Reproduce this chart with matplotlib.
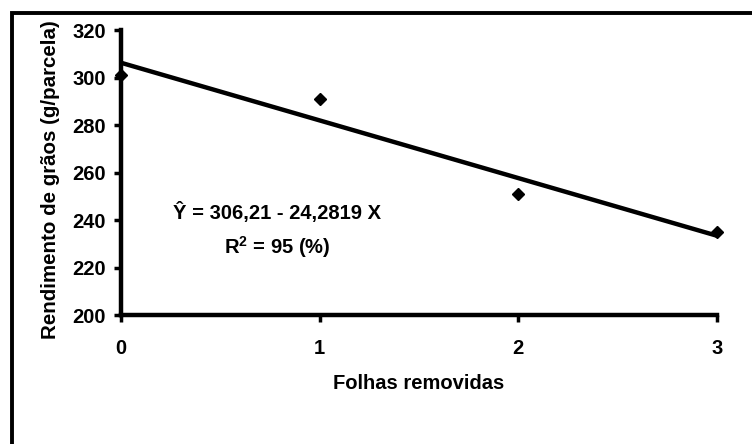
import matplotlib
matplotlib.use("Agg")
import matplotlib.pyplot as plt
import matplotlib.patches as mpatches
import numpy as np

plt.rcParams['font.family'] = ['Liberation Sans', 'DejaVu Sans']
plt.rcParams['mathtext.fontset'] = 'custom'
plt.rcParams['mathtext.bf'] = 'Liberation Sans:bold'
plt.rcParams['mathtext.rm'] = 'Liberation Sans'

# Data
folhas = [0, 1, 2, 3]
rendimento = [301, 291, 251, 235]
intercept = 306.21
slope = -24.2819
yticks = [200, 220, 240, 260, 280, 300, 320]
xticks = [0, 1, 2, 3]

FS = 14.5

fig = plt.figure(figsize=(7.52, 4.44), dpi=100)
ax = fig.add_axes([121/752, 1 - 315/444, (717 - 121)/752, (315 - 30)/444])

xs = np.array([folhas[0], folhas[-1]], dtype=float)
ax.plot(xs, intercept + slope * xs, color='black', lw=3.2, solid_capstyle='butt', zorder=3)
ax.plot(folhas, rendimento, linestyle='none', marker='D', markersize=6.5,
        color='black', zorder=4, clip_on=False)

ax.set_xlim(0, 3)
ax.set_ylim(200, 320)
ax.set_xticks(xticks)
ax.set_yticks(yticks)
ax.tick_params(axis='both', direction='out', length=5, width=2.5, labelsize=FS)
ax.tick_params(axis='x', pad=12)
ax.tick_params(axis='y', pad=6)
for lbl in ax.get_xticklabels() + ax.get_yticklabels():
    lbl.set_fontweight('bold')

for s in ['top', 'right']:
    ax.spines[s].set_visible(False)
for s in ['left', 'bottom']:
    ax.spines[s].set_linewidth(3.2)

ax.set_xlabel('Folhas removidas', fontsize=FS, fontweight='bold', labelpad=12)
ax.set_ylabel('Rendimento de grãos (g/parcela)', fontsize=14.8, fontweight='bold')
ax.yaxis.set_label_coords((60 - 121) / 596, (315 - 180) / 285)

ax.text(0.262, 0.358, 'Ŷ = 306,21 - 24,2819 X', transform=ax.transAxes,
        ha='center', va='center', fontsize=FS, fontweight='bold')
ax.text(0.262, 0.239, 'R$^\\mathbf{2}$ = 95 (%)', transform=ax.transAxes,
        ha='center', va='center', fontsize=FS, fontweight='bold')

# Outer border (top and left visible)
rect = mpatches.Rectangle((11.5/752, -0.2), 2.0, 1.2 - 13.5/444,
                          transform=fig.transFigure, fill=False,
                          edgecolor='black', linewidth=2.8, clip_on=False)
fig.patches.append(rect)

fig.savefig('out.png', dpi=100)
